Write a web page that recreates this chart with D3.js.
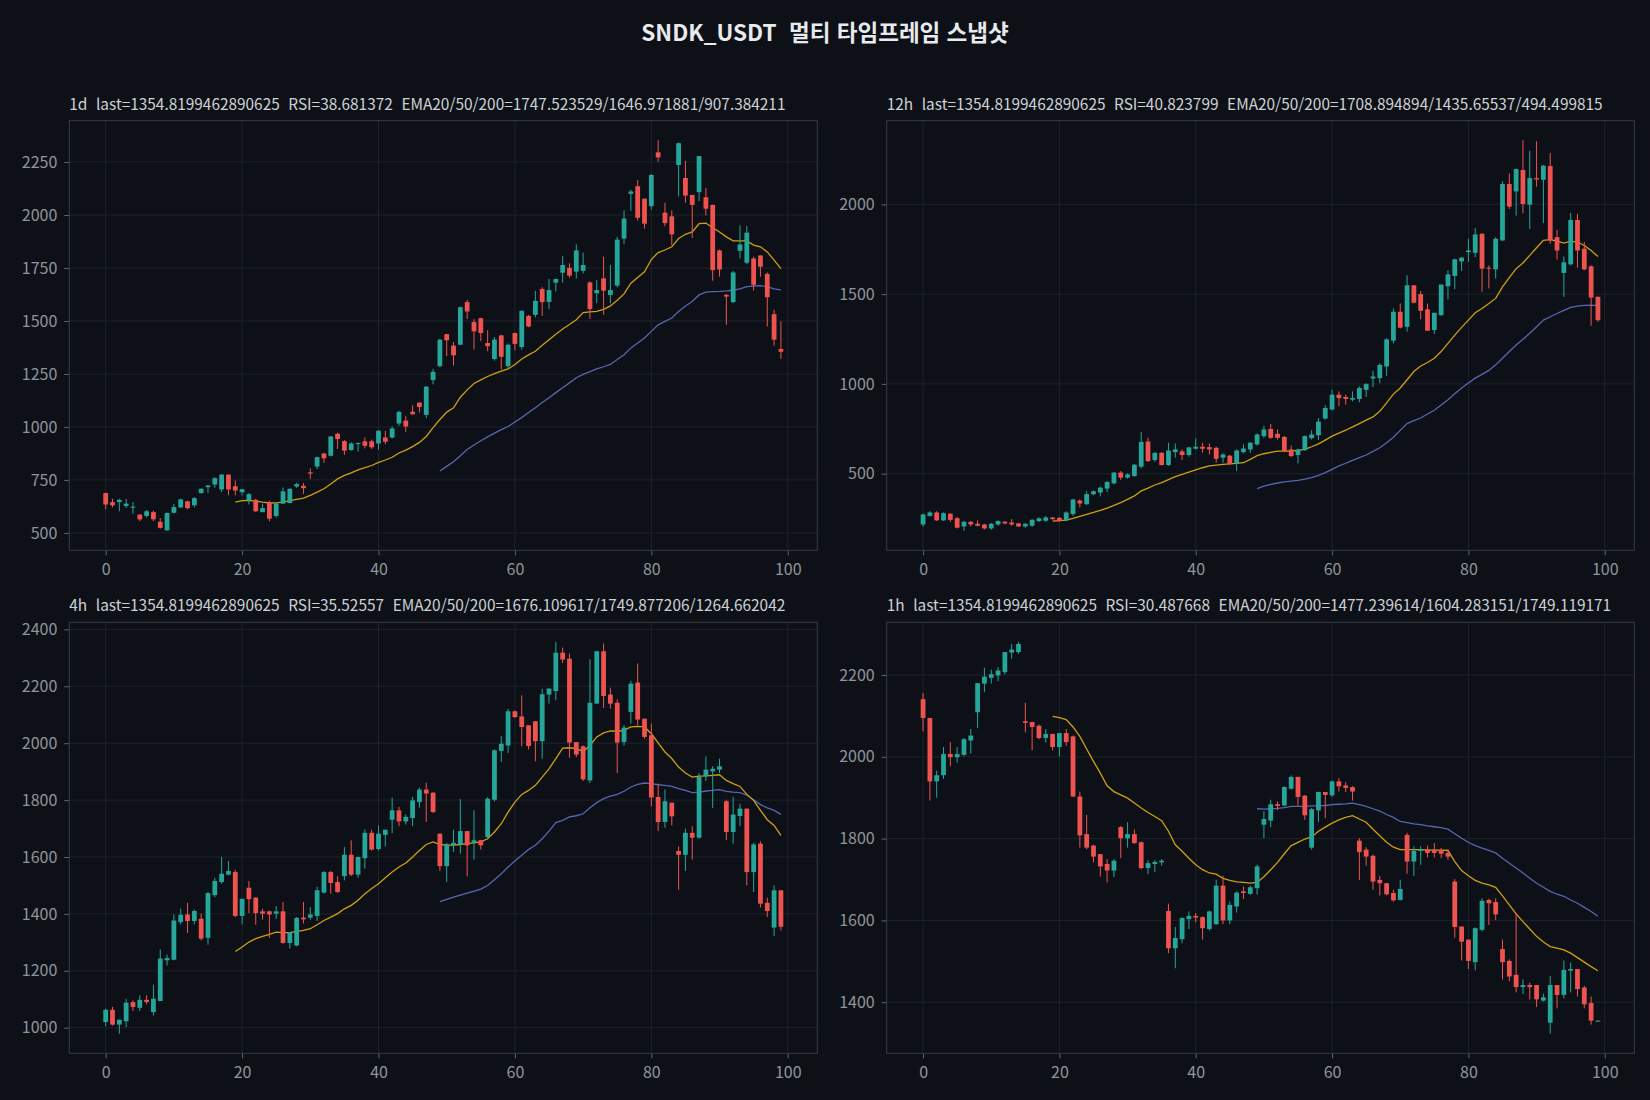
<!DOCTYPE html>
<html lang="ko">

<head>
    <meta charset="UTF-8">
    <title>SNDK_USDT 멀티 타임프레임 스냅샷</title>
    <script src="https://cdn.jsdelivr.net/npm/d3@7"></script>
    <style>
        * {
            margin: 0;
            padding: 0;
        }

        body {
            background: #0d1117;
        }

        svg text {
            font-family: "Noto Sans CJK KR", "Noto Sans", sans-serif;
            white-space: pre;
        }
    </style>
</head>

<body>
    <svg id="chart" width="1650" height="1100"></svg>
    <script>
        const chartTitle = 'SNDK_USDT  멀티 타임프레임 스냅샷'
        const xTicks = [0, 20, 40, 60, 80, 100]

        // 1d  [open, high, low, close]
        const title1d = '1d  last=1354.8199462890625  RSI=38.681372  EMA20/50/200=1747.523529/1646.971881/907.384211'
        const yTicks1d = [500, 750, 1000, 1250, 1500, 1750, 2000, 2250]
        const ohlc1d = [
            [688, 690, 611, 634], [645, 661, 620, 630], [645, 661, 602, 656], [627, 661, 617, 638], [619, 645, 591, 624],
            [586, 589, 555, 564], [580, 608, 572, 602], [598, 605, 555, 564], [552, 570, 520, 524], [512, 596, 510, 594],
            [595, 636, 591, 622], [620, 661, 617, 658], [649, 652, 611, 617], [630, 669, 620, 664], [688, 711, 686, 708],
            [716, 724, 689, 724], [728, 763, 713, 758], [705, 778, 692, 775], [775, 775, 677, 705], [720, 747, 677, 700],
            [692, 708, 677, 706], [653, 688, 634, 683], [656, 661, 598, 602], [598, 638, 598, 617], [645, 652, 555, 567],
            [580, 641, 572, 638], [638, 714, 637, 696], [641, 711, 639, 708], [719, 736, 713, 730], [722, 735, 684, 711],
            [786, 805, 755, 780], [813, 860, 802, 857], [875, 877, 830, 852], [864, 957, 861, 955], [968, 971, 896, 943],
            [933, 938, 868, 888], [891, 927, 888, 922], [919, 927, 883, 924], [932, 950, 899, 911], [932, 940, 896, 904],
            [922, 985, 893, 982], [950, 982, 919, 930], [950, 1002, 946, 993], [1016, 1076, 1005, 1071], [1030, 1052, 977, 1002],
            [1072, 1102, 1057, 1060], [1115, 1115, 1068, 1094], [1057, 1193, 1041, 1190], [1221, 1274, 1201, 1260], [1287, 1415, 1282, 1412],
            [1438, 1438, 1334, 1409], [1384, 1401, 1290, 1338], [1388, 1568, 1388, 1565], [1589, 1600, 1509, 1545], [1495, 1509, 1365, 1451],
            [1513, 1515, 1405, 1443], [1396, 1456, 1357, 1381], [1321, 1424, 1313, 1412], [1432, 1435, 1271, 1331], [1287, 1393, 1279, 1388],
            [1443, 1446, 1362, 1392], [1377, 1549, 1365, 1548], [1524, 1529, 1470, 1474], [1529, 1642, 1517, 1595], [1651, 1659, 1524, 1589],
            [1590, 1698, 1557, 1646], [1681, 1701, 1639, 1698], [1728, 1806, 1681, 1764], [1751, 1772, 1704, 1714], [1733, 1862, 1701, 1833],
            [1737, 1823, 1725, 1764], [1682, 1686, 1510, 1556], [1631, 1693, 1584, 1646], [1701, 1803, 1529, 1643], [1623, 1764, 1584, 1646],
            [1667, 1897, 1659, 1884], [1889, 2022, 1862, 1983], [2100, 2119, 2019, 2111], [2136, 2166, 1975, 1987], [2077, 2077, 1936, 1959],
            [2042, 2194, 2025, 2189], [2296, 2353, 2252, 2272], [2011, 2058, 1947, 1962], [1994, 2022, 1858, 1909], [2236, 2342, 2088, 2339],
            [2175, 2256, 2058, 2092], [2095, 2095, 1892, 2048], [2108, 2278, 2066, 2278], [2084, 2128, 1998, 2030], [2048, 2048, 1690, 1740],
            [1833, 1837, 1709, 1743], [1623, 1628, 1482, 1615], [1589, 1736, 1584, 1729], [1831, 1951, 1795, 1861], [1775, 1948, 1768, 1917],
            [1795, 1803, 1643, 1671], [1809, 1809, 1709, 1756], [1722, 1729, 1474, 1612], [1532, 1553, 1384, 1412], [1368, 1498, 1321, 1354.82]
        ]
        // EMA20 from candle 19, EMA50 from candle 49
        const ema20_1d = [645, 652, 653, 650, 645, 641, 642, 645, 652, 658, 664, 677, 692, 708, 731, 755, 771, 783, 797, 808,
            818, 833, 844, 857, 877, 891, 907, 927, 955, 997, 1035, 1070, 1090, 1140, 1175, 1205, 1222, 1238, 1252, 1263,
            1274, 1295, 1321, 1340, 1357, 1385, 1412, 1437, 1462, 1483, 1506, 1540, 1543, 1545, 1555, 1571, 1598, 1628, 1678, 1705,
            1732, 1790, 1823, 1835, 1850, 1889, 1909, 1920, 1959, 1962, 1940, 1920, 1897, 1878, 1878, 1878, 1858, 1850, 1826, 1787, 1747]
        const ema50_1d = [792, 814, 836, 864, 894, 915, 935, 953, 971, 987, 1002, 1023, 1044, 1068, 1091, 1115, 1138, 1162, 1185, 1208,
            1232, 1248, 1261, 1274, 1284, 1295, 1318, 1341, 1373, 1396, 1420, 1451, 1482, 1498, 1514, 1545, 1571, 1592, 1623, 1636,
            1639, 1640, 1642, 1645, 1651, 1662, 1665, 1667, 1662, 1652, 1647]

        // 12h
        const title12h = '12h  last=1354.8199462890625  RSI=40.823799  EMA20/50/200=1708.894894/1435.65537/494.499815'
        const yTicks12h = [500, 1000, 1500, 2000]
        const ohlc12h = [
            [217, 278, 206, 273], [265, 291, 260, 284], [284, 291, 236, 240], [240, 284, 236, 280], [277, 280, 232, 243],
            [252, 258, 195, 199], [206, 236, 182, 232], [232, 236, 206, 217], [221, 240, 206, 210], [217, 221, 189, 195],
            [195, 225, 188, 221], [217, 240, 210, 236], [232, 236, 217, 223], [228, 247, 210, 217], [223, 225, 204, 206],
            [206, 225, 199, 221], [210, 247, 204, 243], [236, 258, 230, 251], [238, 264, 232, 256], [256, 258, 243, 247],
            [254, 258, 232, 236], [240, 290, 236, 284], [275, 360, 265, 356], [350, 358, 312, 334], [330, 402, 325, 386],
            [386, 406, 380, 402], [395, 428, 373, 422], [417, 458, 398, 454], [446, 509, 441, 506], [506, 515, 465, 478],
            [478, 502, 472, 496], [487, 554, 482, 550], [539, 731, 530, 677], [679, 700, 565, 570], [576, 620, 567, 616],
            [616, 620, 546, 548], [548, 672, 543, 629], [620, 668, 589, 635], [624, 635, 576, 604], [604, 650, 594, 646],
            [639, 696, 635, 650], [650, 672, 616, 639], [648, 668, 607, 635], [644, 650, 561, 583], [589, 613, 561, 607],
            [600, 605, 548, 554], [557, 635, 515, 629], [620, 663, 613, 640], [635, 676, 616, 672], [663, 724, 657, 718],
            [709, 768, 700, 746], [749, 777, 694, 700], [722, 746, 690, 700], [705, 709, 620, 626], [635, 657, 592, 598],
            [604, 639, 557, 635], [631, 713, 626, 709], [698, 742, 690, 718], [714, 810, 687, 790], [807, 881, 801, 866],
            [857, 967, 853, 940], [940, 958, 875, 921], [927, 940, 884, 916], [912, 958, 903, 921], [916, 986, 897, 977],
            [967, 1004, 927, 999], [1030, 1073, 982, 1041], [1032, 1115, 1004, 1106], [1097, 1254, 1045, 1248], [1241, 1420, 1226, 1402],
            [1402, 1448, 1309, 1313], [1318, 1605, 1291, 1549], [1549, 1549, 1448, 1452], [1500, 1518, 1361, 1407], [1415, 1448, 1296, 1296],
            [1300, 1396, 1278, 1396], [1383, 1553, 1378, 1553], [1544, 1633, 1470, 1610], [1601, 1697, 1527, 1694], [1682, 1706, 1629, 1703],
            [1734, 1808, 1679, 1743], [1730, 1867, 1706, 1832], [1836, 1839, 1513, 1642], [1647, 1660, 1532, 1642], [1638, 1817, 1586, 1808],
            [1799, 2128, 1795, 2113], [2113, 2172, 1974, 1987], [2072, 2200, 1937, 2196], [2191, 2357, 1950, 2002], [1998, 2298, 1863, 2146],
            [2146, 2351, 2098, 2139], [2137, 2220, 1895, 2215], [2213, 2287, 1780, 1799], [1817, 1858, 1692, 1743], [1618, 1710, 1485, 1677],
            [1666, 1952, 1660, 1913], [1913, 1947, 1647, 1743], [1753, 1790, 1633, 1638], [1655, 1660, 1324, 1481], [1485, 1488, 1346, 1354.82]
        ]
        const ema20_12h = [236, 238, 241, 251, 262, 273, 284, 296, 308, 323, 339, 357, 376, 404, 420, 437, 450, 467, 483, 496,
            509, 521, 533, 543, 548, 552, 555, 557, 561, 580, 600, 611, 619, 626, 626, 626, 630, 635, 650, 666,
            687, 709, 726, 742, 761, 779, 798, 816, 847, 894, 943, 977, 1023, 1069, 1100, 1119, 1143, 1180, 1226, 1272,
            1315, 1355, 1396, 1420, 1448, 1476, 1540, 1592, 1642, 1673, 1716, 1758, 1799, 1803, 1795, 1784, 1795, 1790, 1771, 1743, 1709]
        const ema50_12h = [417, 430, 441, 448, 454, 459, 463, 470, 478, 491, 506, 524, 543, 558, 574, 589, 604, 624, 644, 672,
            703, 741, 779, 795, 810, 832, 853, 882, 912, 945, 977, 1005, 1032, 1053, 1075, 1106, 1143, 1180, 1217, 1249,
            1282, 1318, 1355, 1374, 1392, 1409, 1426, 1433, 1437, 1439, 1436]

        // 4h
        const title4h = '4h  last=1354.8199462890625  RSI=35.52557  EMA20/50/200=1676.109617/1749.877206/1264.662042'
        const yTicks4h = [1000, 1200, 1400, 1600, 1800, 2000, 2200, 2400]
        const ohlc4h = [
            [1020, 1067, 1005, 1063], [1063, 1073, 1008, 1011], [1011, 1028, 979, 1028], [1023, 1102, 1002, 1088], [1090, 1096, 1059, 1073],
            [1070, 1114, 1059, 1098], [1098, 1114, 1082, 1090], [1055, 1151, 1043, 1102], [1094, 1275, 1094, 1243], [1237, 1257, 1219, 1245],
            [1239, 1398, 1237, 1377], [1371, 1418, 1363, 1397], [1398, 1439, 1333, 1375], [1375, 1415, 1363, 1410], [1383, 1401, 1307, 1313],
            [1316, 1477, 1292, 1473], [1466, 1527, 1459, 1516], [1512, 1600, 1506, 1541], [1538, 1586, 1536, 1551], [1547, 1555, 1389, 1393],
            [1393, 1453, 1363, 1453], [1492, 1516, 1403, 1452], [1457, 1459, 1362, 1403], [1409, 1418, 1380, 1401], [1409, 1412, 1316, 1398],
            [1401, 1427, 1383, 1409], [1409, 1442, 1295, 1298], [1298, 1336, 1278, 1336], [1289, 1389, 1286, 1386], [1387, 1442, 1366, 1381],
            [1387, 1424, 1380, 1398], [1393, 1495, 1375, 1483], [1475, 1550, 1471, 1547], [1547, 1551, 1471, 1509], [1512, 1532, 1473, 1477],
            [1533, 1635, 1518, 1608], [1608, 1659, 1533, 1538], [1538, 1602, 1527, 1600], [1596, 1697, 1559, 1685], [1685, 1696, 1623, 1626],
            [1628, 1711, 1623, 1682], [1678, 1696, 1637, 1696], [1731, 1809, 1684, 1764], [1764, 1776, 1708, 1725], [1725, 1750, 1714, 1741],
            [1737, 1811, 1708, 1799], [1793, 1844, 1773, 1837], [1837, 1861, 1723, 1823], [1826, 1828, 1755, 1758], [1682, 1682, 1551, 1568],
            [1568, 1650, 1512, 1644], [1641, 1696, 1618, 1650], [1644, 1803, 1612, 1691], [1691, 1691, 1532, 1641], [1650, 1764, 1591, 1659],
            [1659, 1660, 1626, 1641], [1670, 1810, 1665, 1805], [1801, 1978, 1795, 1975], [1973, 2025, 1934, 1998], [1992, 2121, 1966, 2112],
            [2112, 2115, 2088, 2092], [2094, 2168, 1989, 2057], [2063, 2063, 1978, 1990], [2077, 2077, 1936, 2007], [2007, 2192, 1946, 2172],
            [2171, 2192, 2139, 2192], [2183, 2356, 2151, 2318], [2318, 2336, 2282, 2294], [2297, 2315, 1949, 2002], [2004, 2004, 1951, 1960],
            [1989, 1992, 1867, 1873], [1869, 2295, 1860, 2142], [2139, 2323, 2139, 2323], [2323, 2350, 2124, 2166], [2171, 2195, 2121, 2139],
            [2142, 2154, 1895, 2002], [2004, 2063, 1992, 2055], [2110, 2219, 2069, 2209], [2213, 2280, 2063, 2083], [2086, 2086, 2016, 2022],
            [2028, 2069, 1778, 1809], [1811, 1858, 1691, 1723], [1723, 1837, 1703, 1796], [1791, 1791, 1711, 1743], [1621, 1637, 1485, 1608],
            [1608, 1700, 1551, 1685], [1685, 1708, 1591, 1668], [1668, 1895, 1664, 1881], [1884, 1954, 1867, 1907], [1901, 1919, 1772, 1910],
            [1907, 1946, 1895, 1919], [1796, 1801, 1659, 1688], [1688, 1811, 1647, 1749], [1744, 1787, 1709, 1770], [1770, 1770, 1500, 1547],
            [1547, 1650, 1477, 1644], [1647, 1655, 1422, 1436], [1439, 1457, 1389, 1410], [1352, 1500, 1322, 1483], [1483, 1483, 1342, 1354.82]
        ]
        const ema20_4h = [1268, 1284, 1301, 1313, 1321, 1328, 1336, 1334, 1334, 1339, 1342, 1348, 1362, 1377, 1389, 1401, 1418, 1430, 1448, 1471,
            1489, 1506, 1527, 1547, 1565, 1579, 1600, 1623, 1644, 1653, 1644, 1642, 1642, 1644, 1647, 1650, 1653, 1664, 1688, 1717,
            1758, 1793, 1820, 1834, 1852, 1881, 1910, 1946, 1983, 1984, 1981, 1971, 1992, 2022, 2036, 2043, 2042, 2045, 2057, 2059,
            2057, 2033, 2001, 1969, 1946, 1916, 1895, 1881, 1884, 1885, 1887, 1889, 1869, 1858, 1848, 1820, 1799, 1764, 1731, 1711, 1676]
        const ema50_4h = [1443, 1451, 1459, 1466, 1473, 1480, 1487, 1500, 1520, 1541, 1565, 1586, 1606, 1626, 1641, 1664, 1691, 1721, 1729, 1741,
            1745, 1752, 1773, 1791, 1805, 1814, 1820, 1831, 1846, 1855, 1860, 1858, 1854, 1852, 1848, 1840, 1834, 1826, 1828, 1832,
            1834, 1837, 1831, 1828, 1826, 1817, 1801, 1784, 1773, 1764, 1750]

        // 1h
        const title1h = '1h  last=1354.8199462890625  RSI=30.487668  EMA20/50/200=1477.239614/1604.283151/1749.119171'
        const yTicks1h = [1400, 1600, 1800, 2000, 2200]
        const ohlc1h = [
            [2141, 2156, 2062, 2095], [2095, 2095, 1893, 1940], [1940, 1966, 1900, 1955], [1955, 2024, 1946, 2007], [2007, 2036, 1977, 1999],
            [1999, 2024, 1986, 2007], [2005, 2046, 2001, 2043], [2040, 2068, 2008, 2052], [2109, 2180, 2070, 2180], [2179, 2218, 2158, 2196],
            [2193, 2213, 2179, 2202], [2199, 2219, 2185, 2211], [2207, 2256, 2201, 2256], [2255, 2276, 2240, 2262], [2256, 2281, 2252, 2276],
            [2087, 2132, 2060, 2083], [2085, 2086, 2016, 2073], [2076, 2079, 2043, 2046], [2046, 2068, 2035, 2056], [2056, 2056, 2016, 2024],
            [2024, 2058, 2001, 2058], [2058, 2068, 2027, 2036], [2050, 2052, 1902, 1903], [1903, 1915, 1778, 1808], [1811, 1858, 1774, 1778],
            [1783, 1785, 1742, 1756], [1762, 1762, 1707, 1732], [1738, 1750, 1693, 1722], [1722, 1750, 1706, 1746], [1828, 1831, 1752, 1801],
            [1801, 1840, 1778, 1811], [1811, 1822, 1787, 1789], [1791, 1793, 1725, 1728], [1728, 1747, 1713, 1740], [1738, 1747, 1718, 1743],
            [1742, 1750, 1734, 1746], [1623, 1641, 1520, 1532], [1532, 1584, 1483, 1557], [1554, 1607, 1544, 1606], [1603, 1622, 1579, 1611],
            [1611, 1618, 1595, 1607], [1608, 1610, 1553, 1581], [1579, 1624, 1575, 1622], [1591, 1699, 1589, 1685], [1685, 1709, 1591, 1600],
            [1600, 1646, 1591, 1638], [1634, 1671, 1619, 1668], [1671, 1683, 1652, 1667], [1665, 1685, 1662, 1681], [1679, 1736, 1663, 1732],
            [1834, 1867, 1801, 1848], [1844, 1895, 1828, 1884], [1884, 1891, 1870, 1880], [1881, 1928, 1879, 1926], [1922, 1954, 1920, 1951],
            [1951, 1951, 1880, 1902], [1905, 1907, 1846, 1857], [1778, 1875, 1773, 1872], [1869, 1915, 1840, 1914], [1914, 1914, 1850, 1907],
            [1906, 1942, 1902, 1940], [1940, 1948, 1915, 1928], [1930, 1938, 1914, 1924], [1926, 1928, 1893, 1915], [1795, 1801, 1699, 1767],
            [1773, 1779, 1734, 1756], [1758, 1761, 1675, 1695], [1699, 1709, 1661, 1691], [1691, 1691, 1661, 1664], [1667, 1675, 1646, 1649],
            [1650, 1699, 1649, 1677], [1809, 1814, 1714, 1744], [1744, 1781, 1709, 1770], [1770, 1781, 1736, 1774], [1774, 1783, 1754, 1765],
            [1773, 1789, 1754, 1765], [1770, 1777, 1752, 1763], [1765, 1774, 1748, 1756], [1695, 1701, 1558, 1584], [1585, 1585, 1502, 1548],
            [1553, 1553, 1481, 1501], [1498, 1583, 1478, 1581], [1577, 1654, 1573, 1648], [1650, 1653, 1589, 1642], [1645, 1654, 1601, 1615],
            [1530, 1553, 1455, 1498], [1501, 1505, 1451, 1463], [1467, 1618, 1424, 1437], [1437, 1456, 1420, 1442], [1442, 1448, 1407, 1437],
            [1442, 1442, 1388, 1407], [1404, 1421, 1402, 1412], [1350, 1464, 1323, 1442], [1442, 1442, 1385, 1418], [1418, 1502, 1410, 1479],
            [1477, 1497, 1424, 1481], [1481, 1481, 1414, 1432], [1436, 1440, 1385, 1395], [1398, 1414, 1345, 1355], [1354.3, 1356, 1353, 1354.82]
        ]
        const ema20_1h = [2099, 2096, 2091, 2073, 2050, 2019, 1989, 1960, 1929, 1915, 1907, 1899, 1887, 1875, 1864, 1854, 1844, 1818, 1785, 1769,
            1752, 1736, 1724, 1716, 1713, 1703, 1698, 1694, 1693, 1691, 1693, 1707, 1724, 1742, 1763, 1783, 1791, 1799, 1804, 1818,
            1828, 1838, 1846, 1852, 1856, 1848, 1840, 1823, 1807, 1791, 1779, 1773, 1773, 1773, 1773, 1772, 1772, 1772, 1771, 1744,
            1722, 1709, 1698, 1691, 1687, 1681, 1660, 1638, 1616, 1597, 1579, 1561, 1547, 1536, 1532, 1528, 1520, 1509, 1498, 1487, 1477]
        const ema50_1h = [1873, 1872, 1873, 1874, 1876, 1879, 1879, 1879, 1880, 1880, 1881, 1883, 1884, 1885, 1887, 1883, 1879, 1873, 1867, 1859,
            1852, 1842, 1839, 1836, 1834, 1831, 1829, 1827, 1823, 1812, 1801, 1791, 1783, 1777, 1771, 1765, 1752, 1740, 1728, 1716,
            1703, 1691, 1681, 1671, 1664, 1659, 1650, 1642, 1632, 1622, 1610]

        const ema20Start = 19
        const ema50Start = 49

        const upColor = '#26a69a'
        const downColor = '#ef5350'

        var svg = d3.select('#chart')
        svg.append('rect').attr('width', 1650).attr('height', 1100).attr('fill', '#0d1117')

        svg.append('text')
            .attr('x', 825).attr('y', 35)
            .attr('text-anchor', 'middle')
            .attr('dominant-baseline', 'middle')
            .attr('fill', '#e8eaed')
            .attr('font-size', 22.5)
            .attr('font-weight', 600)
            .text(chartTitle)

        const panels = [
            { title: title1d, ohlc: ohlc1d, e20: ema20_1d, e50: ema50_1d, yTicks: yTicks1d, left: 69.3, top: 120.7, right: 817.3, bottom: 550.3 },
            { title: title12h, ohlc: ohlc12h, e20: ema20_12h, e50: ema50_12h, yTicks: yTicks12h, left: 886.7, top: 120.7, right: 1634.3, bottom: 550.3 },
            { title: title4h, ohlc: ohlc4h, e20: ema20_4h, e50: ema50_4h, yTicks: yTicks4h, left: 69.3, top: 622.3, right: 817.3, bottom: 1053.3 },
            { title: title1h, ohlc: ohlc1h, e20: ema20_1h, e50: ema50_1h, yTicks: yTicks1h, left: 886.7, top: 622.3, right: 1634.3, bottom: 1053.3 }
        ]

        panels.forEach(p => {
            var n = p.ohlc.length
            var bodyW = 0.7
            // matplotlib-style 5% margins
            var x0 = -bodyW / 2, x1 = n - 1 + bodyW / 2
            var lo = d3.min(p.ohlc, d => d[2]), hi = d3.max(p.ohlc, d => d[1])
            var x = d3.scaleLinear()
                .domain([x0 - (x1 - x0) * 0.05, x1 + (x1 - x0) * 0.05])
                .range([p.left, p.right])
            var y = d3.scaleLinear()
                .domain([lo - (hi - lo) * 0.05, hi + (hi - lo) * 0.05])
                .range([p.bottom, p.top])

            var g = svg.append('g')

            // grid
            g.selectAll('line.gx').data(xTicks).enter().append('line')
                .attr('x1', d => x(d)).attr('x2', d => x(d))
                .attr('y1', p.top).attr('y2', p.bottom)
                .attr('stroke', '#1d222b').attr('stroke-width', 1)
            g.selectAll('line.gy').data(p.yTicks).enter().append('line')
                .attr('x1', p.left).attr('x2', p.right)
                .attr('y1', d => y(d)).attr('y2', d => y(d))
                .attr('stroke', '#1d222b').attr('stroke-width', 1)

            // axes
            var xAxis = d3.axisBottom(x).tickValues(xTicks).tickFormat(d3.format('d')).tickSize(5).tickPadding(8)
            var yAxis = d3.axisLeft(y).tickValues(p.yTicks).tickFormat(d3.format('d')).tickSize(5).tickPadding(7)
            var ax = g.append('g').attr('transform', `translate(0,${p.bottom})`).call(xAxis)
            var ay = g.append('g').attr('transform', `translate(${p.left},0)`).call(yAxis)
            ;[ax, ay].forEach(a => {
                a.select('.domain').remove()
                a.selectAll('line').attr('stroke', '#5f6570')
                a.selectAll('text').attr('fill', '#8f949c').attr('font-size', 16)
                    .attr('font-family', '"Noto Sans CJK KR", "Noto Sans", sans-serif')
            })

            // frame
            g.append('rect')
                .attr('x', p.left).attr('y', p.top)
                .attr('width', p.right - p.left).attr('height', p.bottom - p.top)
                .attr('fill', 'none').attr('stroke', '#363c47').attr('stroke-width', 1)

            // panel title
            g.append('text')
                .attr('x', p.left).attr('y', p.top - 11)
                .attr('fill', '#cdd1d6').attr('font-size', 15.4)
                .text(p.title)

            // EMA lines
            var line = d3.line().x(d => x(d.i)).y(d => y(d.v))
            g.append('path')
                .datum(p.e50.map((v, k) => ({ i: k + ema50Start, v })))
                .attr('d', line).attr('fill', 'none')
                .attr('stroke', '#5666b0').attr('stroke-width', 1.3)
            g.append('path')
                .datum(p.e20.map((v, k) => ({ i: k + ema20Start, v })))
                .attr('d', line).attr('fill', 'none')
                .attr('stroke', '#cf9f12').attr('stroke-width', 1.3)

            // candles
            var c = g.selectAll('g.candle').data(p.ohlc).enter().append('g')
            c.append('line')
                .attr('x1', (d, i) => x(i)).attr('x2', (d, i) => x(i))
                .attr('y1', d => y(d[1])).attr('y2', d => y(d[2]))
                .attr('stroke', d => d[3] >= d[0] ? upColor : downColor)
                .attr('stroke-width', 1)
            c.append('rect')
                .attr('x', (d, i) => x(i - bodyW / 2))
                .attr('width', x(bodyW) - x(0))
                .attr('y', d => y(Math.max(d[0], d[3])))
                .attr('height', d => Math.max(1, Math.abs(y(d[0]) - y(d[3]))))
                .attr('fill', d => d[3] >= d[0] ? upColor : downColor)
        })
    </script>
</body>

</html>
